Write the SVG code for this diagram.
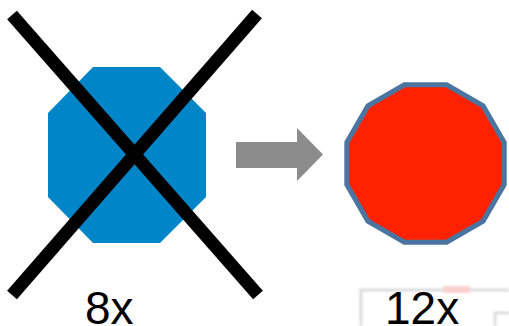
<svg xmlns="http://www.w3.org/2000/svg" width="509" height="326" viewBox="0 0 509 326">
  <style>
    .label { font-family: "Liberation Sans", Arial, sans-serif; font-size: 46px; fill: #000000; }
    .cross { stroke: #000000; stroke-width: 13; stroke-linecap: butt; fill: none; }
    .faint { stroke: #DCDCDC; stroke-width: 3; fill: none; }
  </style>
  <defs>
    <filter id="soft" x="-10%" y="-10%" width="120%" height="120%">
      <feGaussianBlur stdDeviation="0.8"/>
    </filter>
  </defs>

  <rect width="509" height="326" fill="#FFFFFF"/>

  <!-- faint frame lines behind the right label -->
  <g id="backdrop" filter="url(#soft)">
    <path class="faint" d="M361,326 V290 H509"/>
    <path class="faint" d="M495,326 V313 H509"/>
    <rect x="443" y="286" width="27" height="7" fill="#FAD0D0"/>
  </g>

  <!-- octagon, crossed out -->
  <g id="octagon">
    <polygon points="93,67 160,67 206,113 206,197 160,243 93,243 48,197 48,113" fill="#0085C8"/>
    <line class="cross" x1="12" y1="15" x2="258" y2="295"/>
    <line class="cross" x1="257" y1="14" x2="12" y2="295"/>
    <text class="label" x="85" y="324">8x</text>
  </g>

  <!-- block arrow between the two shapes -->
  <g id="connectors">
    <polygon points="236,142 297,142 297,128 323,154.5 297,181 297,168 236,168" fill="#8C8C8C"/>
  </g>

  <!-- dodecagon -->
  <g id="dodecagon">
    <polygon points="404.4,84.8 446.6,84.8 483.1,105.9 504.2,142.4 504.2,184.6 483.1,221.1 446.6,242.2 404.4,242.2 367.9,221.1 346.8,184.6 346.8,142.4 367.9,105.9"
             fill="#FF2200" stroke="#4A75A0" stroke-width="5" stroke-linejoin="miter"/>
    <text class="label" x="385" y="324">12x</text>
  </g>
</svg>
